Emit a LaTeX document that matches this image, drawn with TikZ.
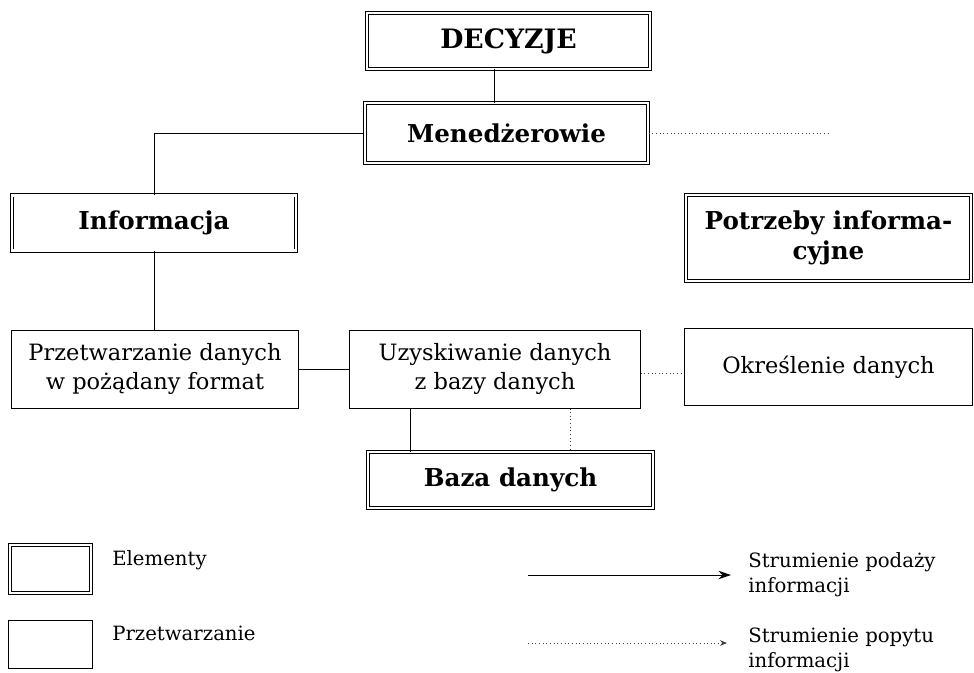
\documentclass[tikz,border=0pt]{standalone}
\usepackage{fontspec}
\usetikzlibrary{arrows.meta}
\newfontfamily\schfont{DejaVu Serif}

\begin{document}
\begin{tikzpicture}[>={Stealth[length=9pt,width=6pt]}, x=0.025cm, y=-0.025cm]
\tikzset{ElemStyle/.style = {draw, double, double distance=1.6pt, line width=0.6pt,
                             align=center, inner sep=0pt,
                             font=\schfont\bfseries\fontsize{17.5}{21}\selectfont},
         ProcStyle/.style = {draw, line width=0.7pt, align=center, inner sep=0pt,
                             font=\schfont\fontsize{16}{20}\selectfont},
         SupplyStyle/.style = {line width=0.7pt},
         DemandStyle/.style = {dotted, line width=0.6pt, black!75},
         LegendText/.style = {align=left, inner sep=0pt}
  }
\useasboundingbox (0,0) rectangle (974,672);

\node[ElemStyle, minimum width=7.08cm, minimum height=1.4cm,
      font=\schfont\bfseries\fontsize{19}{21}\selectfont] (decyzje) at (508.5,41) {DECYZJE};
\node[ElemStyle, minimum width=7.08cm, minimum height=1.5cm] (menedzer) at (506.5,133) {Menedżerowie};
\node[ElemStyle, minimum width=7.1cm, minimum height=1.38cm] (informacja) at (154,223) {Informacja};
\node[ElemStyle, minimum width=7.12cm, minimum height=2.15cm] (potrzeby) at (828.5,238) {Potrzeby informa-\\cyjne};
%-----------------------------
\node[ProcStyle, minimum width=7.15cm, minimum height=1.95cm] (przetw) at (155,369) {Przetwarzanie danych\\w pożądany format};
\node[ProcStyle, minimum width=7.25cm, minimum height=1.95cm] (uzysk) at (495,369) {Uzyskiwanie danych\\z bazy danych};
\node[ProcStyle, minimum width=7.22cm, minimum height=1.93cm] (okresl) at (828.5,367) {Określenie danych};
\node[ElemStyle, minimum width=7.12cm, minimum height=1.4cm] (baza) at (510.5,480) {Baza danych};
%-----------------------------
\draw[SupplyStyle] ([xshift=-0.36cm]decyzje.south) -- ([xshift=-0.36cm]decyzje.south |- menedzer.north);
\draw[SupplyStyle] (menedzer.west) -| (informacja.north);
\coordinate (menend) at (830,133);
\draw[DemandStyle] (menedzer.east) -- (menend);
\draw[SupplyStyle] (informacja.south) -- (informacja.south |- przetw.north);
\draw[SupplyStyle] (przetw) -- (uzysk);
\draw[DemandStyle] ([yshift=-0.1cm]uzysk.east) -- ([yshift=-0.1cm]uzysk.east -| okresl.west);
\draw[SupplyStyle] ([xshift=-2.12cm]uzysk.south) -- ([xshift=-2.12cm]uzysk.south |- baza.north);
\draw[DemandStyle] ([xshift=1.88cm]uzysk.south) -- ([xshift=1.88cm]uzysk.south |- baza.north);

% legend
\node[ElemStyle, minimum width=2.02cm, minimum height=1.2cm] (legelem) at (50.5,569) {};
\node[ProcStyle, minimum width=2.12cm, minimum height=1.18cm] (legproc) at (50.5,644.5) {};
\node[LegendText, anchor=base west, font=\schfont\fontsize{14}{17}\selectfont] (legelemtxt) at (112,565) {Elementy};
\node[LegendText, anchor=base west, font=\schfont\fontsize{14}{17}\selectfont] (legproctxt) at (112,640) {Przetwarzanie};

\coordinate (supa) at (528,575);
\coordinate (supb) at (731,575);
\draw[->, SupplyStyle] (supa) -- (supb);
\coordinate (dema) at (528,643);
\coordinate (demb) at (727,643);
\draw[-{Stealth[length=5pt,width=4pt]}, DemandStyle] (dema) -- (demb);
\node[LegendText, anchor=west, font=\schfont\fontsize{14}{18}\selectfont] (suptxt) at (748,575) {Strumienie podaży\\informacji};
\node[LegendText, anchor=west, font=\schfont\fontsize{14}{18}\selectfont] (demtxt) at (748,650) {Strumienie popytu\\informacji};

\end{tikzpicture}
\end{document}
